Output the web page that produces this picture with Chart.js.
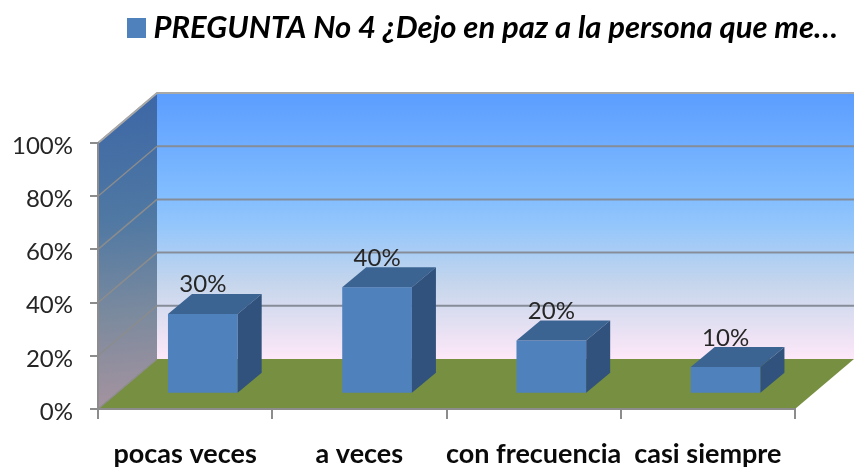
<!DOCTYPE html>
<html><head><meta charset="utf-8">
<style>html,body{margin:0;padding:0;background:#fff}#w{position:relative;width:854px;height:471px}#c{filter:blur(0.5px)}</style>
<script src="https://cdn.jsdelivr.net/npm/chart.js@4"></script>
</head><body><div id="w"><canvas id="c" width="854" height="471"></canvas></div>
<script>
const categories = ["pocas veces", "a veces", "con frecuencia", "casi siempre"];
const values = [30, 40, 20, 10];
const seriesName = "PREGUNTA No 4 ¿Dejo en paz a la persona que me…";
const yMax = 100, yStep = 20;

const FONT = "Lato, Carlito, sans-serif";
const TEXT = "#262626";
const WALL = {dx: 59, dy: 50};
const BAR = {ox: 17.7, oy: 15.3, dx: 24, dy: 20};
const BAR_FRONT = "#4f81bd", BAR_TOP = "#3c6492", BAR_SIDE = "#31527c";

function poly(ctx, pts, fill) {
  ctx.beginPath();
  pts.forEach((p, i) => i ? ctx.lineTo(p[0], p[1]) : ctx.moveTo(p[0], p[1]));
  ctx.closePath();
  ctx.fillStyle = fill;
  ctx.fill();
}

const walls3d = {
  id: "walls3d",
  afterLayout(chart) {
    // move the legend into its slot above the plot
    const l = chart.legend;
    const h = l.height, w = l.width;
    l.left = 125; l.right = l.left + w;
    l.top = 28 - h / 2; l.bottom = l.top + h;
  },
  beforeDraw(chart) {
    const {ctx, chartArea: a, scales: {y}} = chart;
    const L = a.left, R = a.right, T = a.top, B = a.bottom;
    const dx = WALL.dx, dy = WALL.dy;
    ctx.save();
    // back wall
    const g = ctx.createLinearGradient(0, T - dy, 0, B - dy);
    g.addColorStop(0, "#5b9dff");
    g.addColorStop(0.37, "#80bcff");
    g.addColorStop(0.5, "#94c6fb");
    g.addColorStop(0.72, "#c6d6ec");
    g.addColorStop(1, "#fde8f8");
    poly(ctx, [[L + dx, T - dy], [R + dx, T - dy], [R + dx, B - dy], [L + dx, B - dy]], g);
    // side wall
    const s = ctx.createLinearGradient(L, T - dy, L + dx / 2, B);
    s.addColorStop(0, "#3c66a6");
    s.addColorStop(0.4, "#4f78a3");
    s.addColorStop(0.7, "#7b8a9e");
    s.addColorStop(1, "#a6939f");
    poly(ctx, [[L, T], [L + dx, T - dy], [L + dx, B - dy], [L, B]], s);
    // floor
    poly(ctx, [[L, B], [L + dx, B - dy], [R + dx, B - dy], [R, B]], "#778f41");
    // wall grid lines, from the value scale
    y.ticks.forEach(t => {
      const py = y.getPixelForValue(t.value);
      ctx.beginPath();
      ctx.moveTo(L, py);
      ctx.lineTo(L + dx, py - dy);
      ctx.strokeStyle = "#8c8c8c";
      ctx.lineWidth = 1.4;
      ctx.stroke();
      if (t.value > 0) {
        ctx.beginPath();
        ctx.moveTo(L + dx, py - dy);
        ctx.lineTo(R + dx, py - dy);
        ctx.strokeStyle = "#868d99";
        ctx.lineWidth = 2;
        ctx.stroke();
      }
    });
    // top edge of the back wall and its left edge
    const topY = y.getPixelForValue(yMax) - dy;
    ctx.beginPath();
    ctx.moveTo(L, T); ctx.lineTo(L + dx, topY); ctx.lineTo(R + dx, topY);
    ctx.strokeStyle = "#a8a8a8"; ctx.lineWidth = 2; ctx.stroke();
    ctx.restore();
  },
  beforeDatasetDraw(chart) {
    chart.ctx.save();
    chart.ctx.translate(BAR.ox, -BAR.oy);
  },
  afterDatasetDraw(chart, args) {
    const ctx = chart.ctx;
    args.meta.data.forEach((bar, i) => {
      const {x, y, base, width} = bar.getProps(["x", "y", "base", "width"], true);
      const l = x - width / 2, r = x + width / 2;
      poly(ctx, [[l, y], [l + BAR.dx, y - BAR.dy], [r + BAR.dx, y - BAR.dy], [r, y]], BAR_TOP);
      poly(ctx, [[r, y], [r + BAR.dx, y - BAR.dy], [r + BAR.dx, base - BAR.dy], [r, base]], BAR_SIDE);
      ctx.font = "24px " + FONT;
      ctx.fillStyle = TEXT;
      ctx.textAlign = "center";
      ctx.textBaseline = "alphabetic";
      ctx.fillText(values[i] + "%", x, y - 21.5 + 0);
    });
    ctx.restore();
  }
};

new Chart(document.getElementById("c"), {
  type: "bar",
  data: {
    labels: categories,
    datasets: [{
      label: seriesName,
      data: values,
      backgroundColor: BAR_FRONT,
      borderWidth: 0,
      barPercentage: 0.8,
      categoryPercentage: 0.5
    }]
  },
  plugins: [walls3d],
  options: {
    responsive: false,
    animation: false,
    layout: {padding: {left: 0, right: 59, top: 92, bottom: 0}},
    plugins: {
      tooltip: {enabled: false},
      legend: {
        display: true,
        position: "top",
        align: "start",
        labels: {
          boxWidth: 3, boxHeight: 4, padding: 10, color: "#000",
          font: {family: FONT, size: 31, style: "italic", weight: "bold"},
          generateLabels: chart => [{
            text: seriesName, fillStyle: BAR_FRONT, strokeStyle: BAR_FRONT,
            lineWidth: 16, hidden: false, datasetIndex: 0
          }]
        }
      }
    },
    scales: {
      x: {
        afterFit(s) { s.height = 62; },
        border: {color: "#8c8c8c", width: 2},
        grid: {drawOnChartArea: false, drawTicks: true, tickLength: 10, color: "#8c8c8c", lineWidth: 2},
        ticks: {autoSkip: false, maxRotation: 0, minRotation: 0, color: "#0a0a0a", padding: 19,
                font: {family: FONT, size: 27, weight: "bold"}}
      },
      y: {
        min: 0, max: yMax,
        afterFit(s) { s.width = 98; },
        border: {color: "#8c8c8c", width: 2},
        grid: {drawOnChartArea: false, drawTicks: true, tickLength: 8, color: "#8c8c8c", lineWidth: 2},
        ticks: {stepSize: yStep, color: TEXT, padding: 17, labelOffset: 3,
                font: {family: FONT, size: 24},
                callback: v => v + "%"}
      }
    }
  }
});
</script></body></html>
